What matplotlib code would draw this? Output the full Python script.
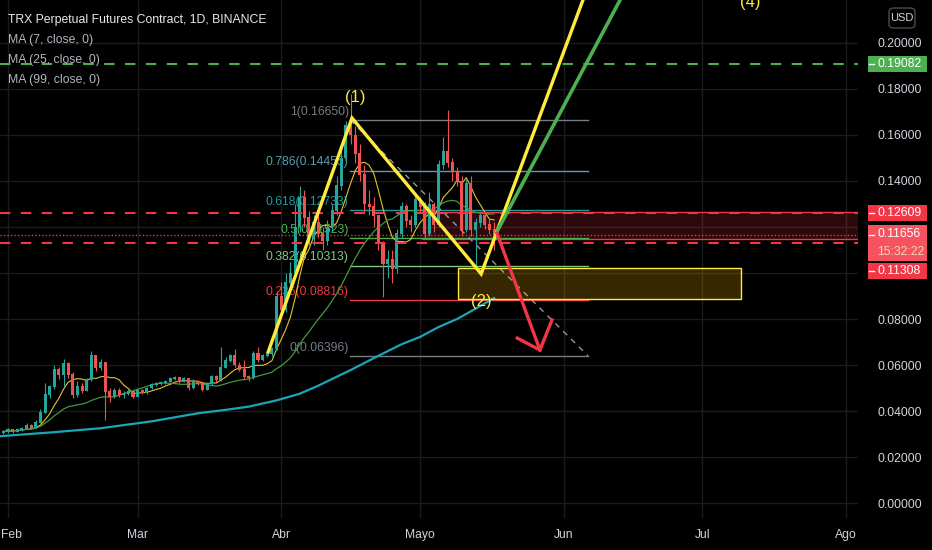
import numpy as np
import pandas as pd
import matplotlib
matplotlib.use('Agg')
import matplotlib.pyplot as plt
import matplotlib.dates as mdates
import matplotlib.transforms as mtransforms
from matplotlib.patches import Rectangle, FancyBboxPatch

# TRX daily candles starting 2021-01-31 (each open = previous close)
start = '2021-01-31'
first_open = 0.0305
closes = [0.0310, 0.0318, 0.0312, 0.0320, 0.0325, 0.0338, 0.0330, 0.0352, 0.0395, 0.0470,
          0.0505, 0.0580, 0.0560, 0.0605, 0.0560, 0.0470, 0.0505, 0.0490, 0.0535, 0.0640,
          0.0590, 0.0610, 0.0485, 0.0465, 0.0490, 0.0470, 0.0478, 0.0485, 0.0465, 0.0490,
          0.0480, 0.0500, 0.0515, 0.0520, 0.0525, 0.0530, 0.0540, 0.0545, 0.0530, 0.0540,
          0.0500, 0.0530, 0.0520, 0.0495, 0.0520, 0.0550, 0.0535, 0.0590, 0.0620, 0.0640,
          0.0600, 0.0580, 0.0550, 0.0545, 0.0650, 0.0625, 0.0640, 0.0650, 0.0670, 0.0900,
          0.0840, 0.0960, 0.1000, 0.1200, 0.1330, 0.1240, 0.1150, 0.1220, 0.1170, 0.1140,
          0.1200, 0.1270, 0.1380, 0.1500, 0.1640, 0.1600, 0.1520, 0.1430, 0.1300, 0.1290,
          0.1250, 0.1130, 0.1040, 0.1060, 0.1020, 0.1170, 0.1290, 0.1230, 0.1210, 0.1320,
          0.1290, 0.1170, 0.1300, 0.1210, 0.1470, 0.1530, 0.1480, 0.1440, 0.1400, 0.1190,
          0.1390, 0.1190, 0.1220, 0.1250, 0.1210, 0.1190, 0.11656]
highs = [0.0318, 0.0325, 0.0322, 0.0328, 0.0332, 0.0348, 0.0342, 0.0360, 0.0410, 0.0520,
         0.0515, 0.0600, 0.0590, 0.0628, 0.0612, 0.0570, 0.0530, 0.0520, 0.0545, 0.0660,
         0.0645, 0.0625, 0.0615, 0.0500, 0.0500, 0.0500, 0.0488, 0.0495, 0.0490, 0.0495,
         0.0495, 0.0505, 0.0522, 0.0528, 0.0532, 0.0536, 0.0546, 0.0552, 0.0550, 0.0548,
         0.0542, 0.0540, 0.0535, 0.0525, 0.0528, 0.0558, 0.0556, 0.0680, 0.0635, 0.0650,
         0.0668, 0.0615, 0.0622, 0.0558, 0.0660, 0.0680, 0.0648, 0.0658, 0.0680, 0.0920,
         0.0960, 0.1000, 0.1050, 0.1300, 0.1380, 0.1360, 0.1270, 0.1250, 0.1260, 0.1200,
         0.1230, 0.1300, 0.1420, 0.1560, 0.1660, 0.1780, 0.1640, 0.1560, 0.1470, 0.1360,
         0.1330, 0.1250, 0.1140, 0.1100, 0.1100, 0.1190, 0.1310, 0.1300, 0.1250, 0.1340,
         0.1330, 0.1310, 0.1350, 0.1310, 0.1490, 0.1590, 0.1710, 0.1500, 0.1460, 0.1420,
         0.1410, 0.1420, 0.1240, 0.1270, 0.1260, 0.1240, 0.1220]
lows = [0.0300, 0.0305, 0.0305, 0.0308, 0.0315, 0.0320, 0.0322, 0.0328, 0.0348, 0.0390,
        0.0455, 0.0495, 0.0540, 0.0510, 0.0545, 0.0455, 0.0460, 0.0480, 0.0485, 0.0530,
        0.0575, 0.0580, 0.0360, 0.0440, 0.0455, 0.0460, 0.0455, 0.0470, 0.0455, 0.0460,
        0.0472, 0.0475, 0.0495, 0.0508, 0.0512, 0.0518, 0.0525, 0.0535, 0.0522, 0.0525,
        0.0490, 0.0495, 0.0512, 0.0488, 0.0490, 0.0515, 0.0528, 0.0530, 0.0585, 0.0612,
        0.0590, 0.0572, 0.0540, 0.0530, 0.0540, 0.0615, 0.0618, 0.0635, 0.0640, 0.0665,
        0.0820, 0.0830, 0.0940, 0.0990, 0.1180, 0.1200, 0.1120, 0.1120, 0.1150, 0.1100,
        0.1120, 0.1180, 0.1250, 0.1360, 0.1480, 0.1560, 0.1480, 0.1400, 0.1260, 0.1250,
        0.1200, 0.1100, 0.0895, 0.0980, 0.0955, 0.1000, 0.1150, 0.1200, 0.1180, 0.1200,
        0.1260, 0.1150, 0.1160, 0.1180, 0.1200, 0.1450, 0.1460, 0.1400, 0.1380, 0.1160,
        0.1180, 0.1160, 0.1030, 0.1200, 0.1190, 0.1170, 0.1100]

# MA(99), days counted from Feb 1
ma99_days = [-2, 10, 20, 31, 41, 47, 52, 58, 63, 67, 74, 80, 85, 89, 93, 97, 101, 105]
ma99_vals = [0.0290, 0.0308, 0.0325, 0.0355, 0.0390, 0.0405, 0.0419, 0.0446, 0.0475,
             0.0510, 0.0578, 0.0640, 0.0690, 0.0722, 0.0765, 0.0800, 0.0845, 0.0891]

month_days = [0, 28, 59, 89, 120, 150, 181]
month_labels = ['Feb', 'Mar', 'Abr', 'Mayo', 'Jun', 'Jul', 'Ago']
price_ticks = [0.0, 0.02, 0.04, 0.06, 0.08, 0.10, 0.12, 0.14, 0.16, 0.18, 0.20]
hidden_ticks = [0.10, 0.12]   # covered by the price tags

# fibonacci retracement
fib_ratios = ['1', '0.786', '0.618', '0.5', '0.382', '0.236', '0']
fib_prices = [0.16650, 0.14455, 0.12733, 0.11523, 0.10313, 0.08816, 0.06396]
fib_colors = ['#787b86', '#5b9cb5', '#1f9a9a', '#4caf50', '#81c784', '#f23645', '#787b86']
fib_days = [73.9, 125.3]

# drawings: (day from Feb 1, price)
wave_days = [56.2, 74.3, 102.2, 126.0]
wave_prices = [0.0657, 0.1674, 0.0996, 0.2285]
bull_days = [105.8, 134.0]
bull_prices = [0.1187, 0.2255]
bear_days = [105.6, 114.9]
bear_prices = [0.1174, 0.0665]
head_days = [110.0, 114.9, 117.5]
head_prices = [0.0717, 0.0665, 0.0796]

resistance = 0.19082
zone_top, zone_bottom = 0.12609, 0.11308
last_price = 0.11656

BG = '#000000'
GRID = '#1c1c1c'
TXT = '#d1d4dc'
UP = '#26a69a'
DOWN = '#ef5350'
FONT = ['Liberation Sans', 'DejaVu Sans']
FS = 8.7

feb1 = mdates.date2num(pd.Timestamp('2021-02-01'))
dates = mdates.date2num(pd.date_range(start, periods=len(closes), freq='D'))
closes = np.array(closes)
opens = np.concatenate([[first_open], closes[:-1]])
highs = np.array(highs)
lows = np.array(lows)

fig = plt.figure(figsize=(9.32, 5.5), dpi=100, facecolor=BG)
ax = fig.add_axes([0, 32 / 550, 858 / 932, 518 / 550])
ax.set_facecolor(BG)
ax.set_xlim(feb1 - 1.73, feb1 + 183.6)
ax.set_ylim(-15 / 2300, 503 / 2300)

for s in ax.spines.values():
    s.set_visible(False)
ax.set_xticks([feb1 + d for d in month_days])
ax.set_xticklabels(month_labels)
ax.set_yticks(price_ticks)
ax.set_yticklabels(['' if p in hidden_ticks else f'{p:.5f}' for p in price_ticks])
ax.yaxis.tick_right()
ax.tick_params(axis='both', length=0, colors=TXT, labelsize=FS)
ax.tick_params(axis='y', pad=14)
ax.tick_params(axis='x', pad=8)
for lab in ax.get_xticklabels() + ax.get_yticklabels():
    lab.set_family(FONT)
first = ax.get_xticklabels()[0]
first.set_transform(first.get_transform() +
                    mtransforms.ScaledTranslation(3 / 100, 0, fig.dpi_scale_trans))
ax.grid(True, color=GRID, linewidth=1)
ax.set_axisbelow(True)

# moving averages
ser = pd.Series(closes)
ax.plot(dates, ser.rolling(7, min_periods=1).mean(), color='#e6c229', lw=0.8, zorder=3)
ax.plot(dates, ser.rolling(25, min_periods=1).mean(), color='#3f9a3f', lw=0.9, zorder=3)
ax.plot([feb1 + d for d in ma99_days], ma99_vals, color='#1aa6b7', lw=1.6, zorder=3)

# candles
cols = np.where(closes >= opens, UP, DOWN)
ax.vlines(dates, lows, highs, colors=cols, lw=0.8, zorder=4)
ax.bar(dates, np.abs(closes - opens) + 0.0004, bottom=np.minimum(opens, closes) - 0.0002,
       width=0.66, color=cols, zorder=4)

# horizontal levels
ax.axhline(resistance, color='#4caf50', lw=1.5, ls=(0, (5, 5)), zorder=5)
ax.axhline(zone_top, color='#f23645', lw=1.5, ls=(0, (5, 5)), zorder=5)
ax.axhline(zone_bottom, color='#f23645', lw=1.5, ls=(0, (5, 5)), zorder=5)
ax.axhline(last_price, color='#f23645', lw=1, ls=(0, (1, 1.5)), zorder=5)

# red zone box
ax.add_patch(Rectangle((feb1 + 89.4, 0.1148), 100, 0.1265 - 0.1148, facecolor='#f23645',
                       alpha=0.18, edgecolor='none', zorder=2))
ax.plot([feb1 + 89.4, feb1 + 190], [0.1265, 0.1265], color='#f23645', lw=1, zorder=2)
ax.plot([feb1 + 89.4, feb1 + 190], [0.1148, 0.1148], color='#f23645', lw=1, zorder=2)

# fibonacci
for r, p, c in zip(fib_ratios, fib_prices, fib_colors):
    ax.plot([feb1 + fib_days[0], feb1 + fib_days[1]], [p, p], color=c, lw=1, zorder=2)
    ax.annotate(f'{r}({p:.5f})', (feb1 + fib_days[0] - 0.3, p), xytext=(0, 6),
                textcoords='offset points', ha='right', va='center', color=c,
                fontsize=FS, family=FONT, zorder=2)
ax.plot([feb1 + fib_days[0], feb1 + fib_days[1]], [fib_prices[0], fib_prices[-1]],
        color='#9598a1', lw=1, ls=(0, (4, 4)), zorder=2)

# target box
ax.add_patch(Rectangle((feb1 + 97.2, 0.0887), 61.1, 0.1022 - 0.0887, facecolor='#ffb300',
                       alpha=0.22, edgecolor='none', zorder=5))
ax.add_patch(Rectangle((feb1 + 97.2, 0.0887), 61.1, 0.1022 - 0.0887, facecolor='none',
                       edgecolor='#ffeb3b', lw=1, zorder=5))

# wave drawings
ax.plot([feb1 + d for d in wave_days], wave_prices, color='#ffeb3b', lw=2.4,
        solid_joinstyle='miter', zorder=6)
ax.plot([feb1 + d for d in bull_days], bull_prices, color='#4caf50', lw=2.6, zorder=6)
ax.plot([feb1 + d for d in bear_days], bear_prices, color='#f23645', lw=2.4, zorder=6)
ax.plot([feb1 + d for d in head_days], head_prices, color='#f23645', lw=2.4,
        solid_joinstyle='miter', zorder=6)
for txt, d, p in [('(1)', 74.9, 0.1765), ('(2)', 102.2, 0.0874), ('(4)', 160.3, 0.2178)]:
    ax.text(feb1 + d, p, txt, color='#ffeb3b', fontsize=12, ha='center', va='center',
            family=FONT, zorder=7)

# price tags on the scale
yt = ax.get_yaxis_transform()
def tag(center, text, fc, h=0.007, text2=None, mark=None):
    ax.add_patch(Rectangle((868 / 858, center - h / 2), 59 / 858, h, transform=yt,
                           facecolor=fc, edgecolor='none', clip_on=False, zorder=10))
    m = center if mark is None else mark
    ax.plot([869 / 858, 874 / 858], [m, m], transform=yt, color='white', lw=1,
            clip_on=False, zorder=11)
    if text2 is None:
        ax.text(877 / 858, center, text, transform=yt, color='white', fontsize=FS,
                family=FONT, ha='left', va='center', clip_on=False, zorder=11)
    else:
        ax.text(877 / 858, center + h / 4, text, transform=yt, color='white', fontsize=FS,
                family=FONT, ha='left', va='center', clip_on=False, zorder=11)
        ax.text(877 / 858, center - h / 4, text2, transform=yt, color='#f5d7b0',
                fontsize=FS, family=FONT, ha='left', va='center', clip_on=False,
                zorder=11)

tag(resistance, f'{resistance:.5f}', '#4caf50')
tag(zone_top, f'{zone_top:.5f}', '#f23645')
tag((503 - 243) / 2300, f'{last_price:.5f}', '#f7525f', h=36 / 2300, text2='15:32:22',
    mark=last_price)
tag((503 - 271) / 2300, f'{zone_bottom:.5f}', '#f23645')

fig.patches.append(FancyBboxPatch((889 / 932, 1 - 28 / 550), 26 / 932, 20 / 550,
                                  boxstyle='round,pad=0,rounding_size=0.006',
                                  transform=fig.transFigure, facecolor=BG,
                                  edgecolor='#4a4a4a', lw=1))
fig.text(902 / 932, 1 - 18 / 550, 'USD', color=TXT, fontsize=8, family=FONT,
         ha='center', va='center')

# legend
fig.text(8 / 932, 1 - 20 / 550, 'TRX Perpetual Futures Contract, 1D, BINANCE',
         color='#e8e8e8', fontsize=8.8, family=FONT, va='center')
for i, lab in enumerate(['MA (7, close, 0)', 'MA (25, close, 0)', 'MA (99, close, 0)']):
    fig.text(8 / 932, 1 - (40 + 20 * i) / 550, lab, color='#b2b5be', fontsize=8.8,
             family=FONT, va='center')

fig.savefig('out.png', dpi=100, facecolor=BG)
